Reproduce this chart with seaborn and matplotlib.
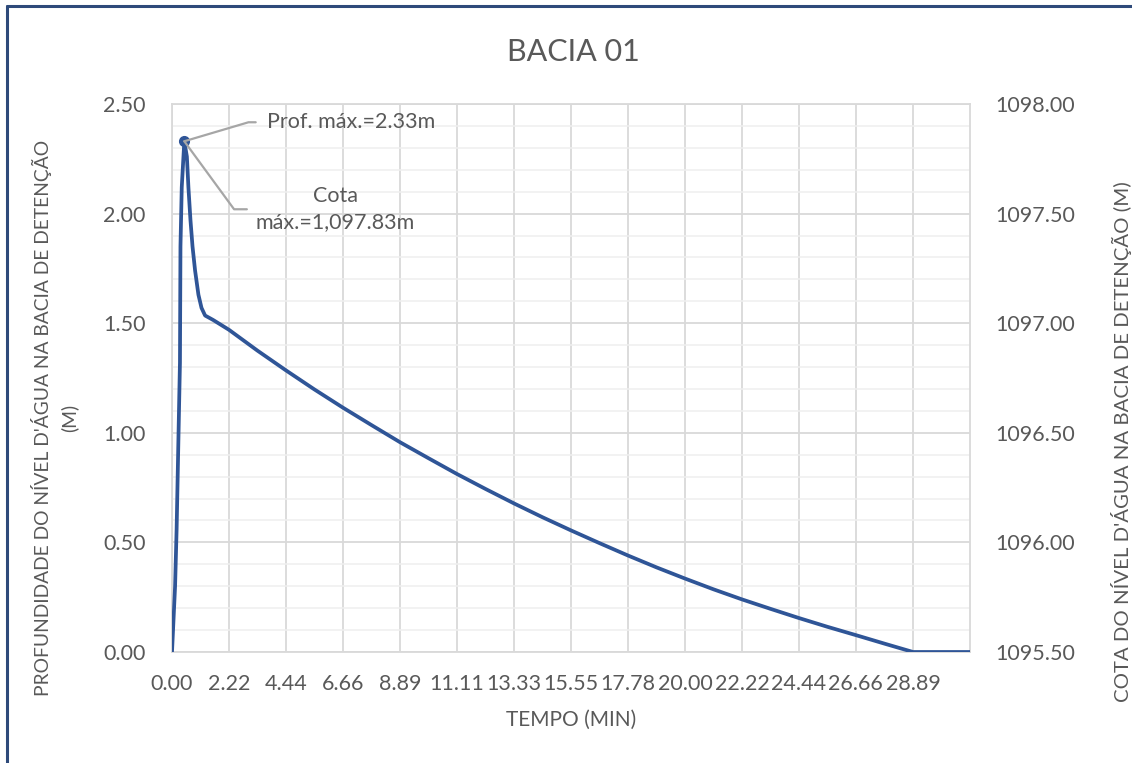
import matplotlib
matplotlib.use("Agg")
import matplotlib.pyplot as plt
from matplotlib.lines import Line2D
from matplotlib.ticker import MultipleLocator, FixedLocator, FuncFormatter
import numpy as np
import pandas as pd
import seaborn as sns

# Water depth in the detention basin over time (min, m)
tempo = [0.00, 0.04, 0.12, 0.18, 0.25, 0.31, 0.33, 0.38, 0.48, 0.58, 0.64,
         0.72, 0.80, 0.90, 1.03, 1.15, 1.29, 1.60, 2.22, 3.33, 4.44, 5.55,
         6.66, 7.78, 8.89, 10.00, 11.11, 12.22, 13.33, 14.44, 15.55, 16.66,
         17.78, 18.89, 20.00, 21.11, 22.22, 23.33, 24.44, 25.55, 26.66, 27.78,
         28.89, 31.11]
profundidade = [0.00, 0.10, 0.30, 0.56, 0.97, 1.32, 1.85, 2.12, 2.33, 2.26, 2.12,
                1.97, 1.85, 1.74, 1.63, 1.57, 1.535, 1.515, 1.47, 1.375, 1.285, 1.198,
                1.115, 1.035, 0.957, 0.884, 0.812, 0.744, 0.678, 0.615, 0.555, 0.497,
                0.440, 0.386, 0.335, 0.286, 0.240, 0.197, 0.155, 0.115, 0.077, 0.038,
                0.00, 0.00]
cota_fundo = 1095.50  # bottom elevation of the basin (m)
x_labels = ["0.00", "2.22", "4.44", "6.66", "8.89", "11.11", "13.33", "15.55",
            "17.78", "20.00", "22.22", "24.44", "26.66", "28.89"]
x_max = 31.11

TXT = "#595959"
LINE = "#2F5597"
GRID = "#D9D9D9"
GRID_MINOR = "#EFEFEF"
LEADER = "#A6A6A6"

sns.set_theme(style="white")
plt.rcParams["font.family"] = ["Lato", "DejaVu Sans"]

df = pd.DataFrame({"tempo": tempo, "profundidade": profundidade})

fig = plt.figure(figsize=(11.32, 7.63), dpi=100)
ax = fig.add_axes([172 / 1132, 1 - 652 / 763, (970 - 172) / 1132, (652 - 104) / 763])

sns.lineplot(data=df, x="tempo", y="profundidade", ax=ax, color=LINE,
             linewidth=2.7, zorder=5)

# peak marker
i_max = int(np.argmax(profundidade))
t_pk, d_pk = tempo[i_max], profundidade[i_max]
ax.plot([t_pk], [d_pk], marker="o", markersize=7, color=LINE, zorder=6)

ax.set_xlim(0, x_max)
ax.set_ylim(0, 2.5)

# y axis
ax.yaxis.set_major_locator(MultipleLocator(0.5))
ax.yaxis.set_minor_locator(MultipleLocator(0.1))
ax.yaxis.set_major_formatter(FuncFormatter(lambda v, p: f"{v:.2f}"))
ax.grid(True, which="major", axis="y", color=GRID, linewidth=1.3, zorder=0)
ax.grid(True, which="minor", axis="y", color=GRID_MINOR, linewidth=1.1, zorder=0)
ax.tick_params(axis="y", which="both", length=0, labelsize=15.5, labelcolor=TXT, pad=19)

# x axis (category-like ticks)
ax.xaxis.set_major_locator(FixedLocator([float(s) for s in x_labels]))
ax.set_xticklabels(x_labels)
ax.grid(True, which="major", axis="x", color=GRID, linewidth=1.3, zorder=0)
ax.tick_params(axis="x", which="major", length=6, width=1.3, color=GRID,
               labelsize=15.5, labelcolor=TXT, pad=10)
ax.set_axisbelow(True)

for side, sp in ax.spines.items():
    sp.set_visible(True)
    sp.set_color(GRID)
    sp.set_linewidth(1.3)

ax.set_xlabel("TEMPO (MIN)", fontsize=15, color=TXT, labelpad=11)
ax.set_ylabel("")

# secondary axis: water surface elevation
ax2 = ax.twinx()
ax2.set_ylim(cota_fundo + 0, cota_fundo + 2.5)
ax2.yaxis.set_major_locator(MultipleLocator(0.5))
ax2.yaxis.set_major_formatter(FuncFormatter(lambda v, p: f"{v:.2f}"))
ax2.tick_params(axis="y", length=0, labelsize=15.5, labelcolor=TXT, pad=18)
for sp in ax2.spines.values():
    sp.set_visible(False)
ax2.grid(False)

fig.text(55 / 1132, 1 - 418 / 763,
         "PROFUNDIDADE DO NÍVEL D'ÁGUA NA BACIA DE DETENÇÃO\n(M)",
         rotation=90, ha="center", va="center", multialignment="center",
         fontsize=13.9, color=TXT, linespacing=1.55)
fig.text(1121 / 1132, 1 - 442 / 763,
         "COTA DO NÍVEL D'ÁGUA NA BACIA DE DETENÇÃO (M)",
         rotation=90, ha="center", va="center", fontsize=14.7, color=TXT)

fig.text(573 / 1132, 1 - 52 / 763, "BACIA 01", ha="center", va="center",
         fontsize=22, color=TXT)

# data labels for the peak
ax.annotate(f"Prof. máx.={d_pk:.2f}m", xy=(t_pk, d_pk), xytext=(83, 19),
            textcoords="offset pixels", ha="left", va="center",
            fontsize=15.5, color=TXT, zorder=7,
            arrowprops=dict(arrowstyle="-", color=LEADER, lw=1.6,
                            connectionstyle="angle,angleA=180,angleB=16.5,rad=0",
                            shrinkA=6, shrinkB=0, relpos=(0, 0.5)))
cota_max = cota_fundo + d_pk
ax.annotate(f"Cota\nmáx.={cota_max:,.2f}m", xy=(t_pk, d_pk), xytext=(151, -68),
            textcoords="offset pixels", ha="center", va="center",
            multialignment="center", fontsize=15.5, color=TXT, linespacing=1.4,
            zorder=7,
            arrowprops=dict(arrowstyle="-", color=LEADER, lw=1.6,
                            connectionstyle="angle,angleA=180,angleB=-53.8,rad=0",
                            shrinkA=4, shrinkB=0, relpos=(0, 0.5)))

# outer frame edges
fig.add_artist(Line2D([7 / 1132, 1], [1 - 6 / 763, 1 - 6 / 763],
                      transform=fig.transFigure, color="#2E4A7A", lw=2.2))
fig.add_artist(Line2D([7 / 1132, 7 / 1132], [0, 1 - 6 / 763],
                      transform=fig.transFigure, color="#2E4A7A", lw=2.2))

fig.savefig("out.png", dpi=100, facecolor="white")
